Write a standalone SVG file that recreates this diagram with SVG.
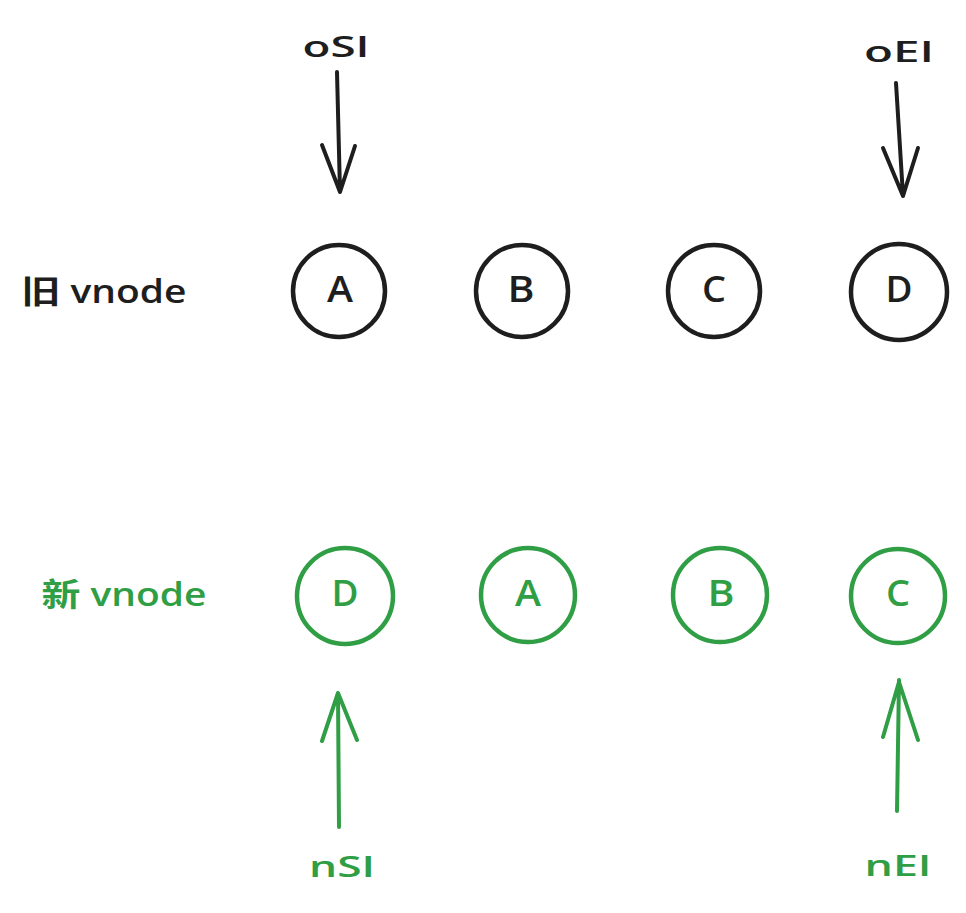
<svg xmlns="http://www.w3.org/2000/svg" width="966" height="913" viewBox="0 0 966 913">
<style>
.k{stroke:#1e1e1e}
.g{stroke:#2f9e44}
circle{fill:none;stroke-width:4.5}
.ln{fill:none;stroke-width:4;stroke-linecap:round;stroke-linejoin:round}
text{font-family:"Open Sans","Noto Sans CJK SC",sans-serif;font-size:32px;font-weight:600;text-anchor:middle;dominant-baseline:central}
text.n{font-size:36px}
text.s{font-size:28px}
.tk{fill:#1e1e1e}
.tg{fill:#2f9e44}
</style>
<rect width="966" height="913" fill="#ffffff"/>
<g id="label-old"><text class="tk" x="104" y="290" textLength="165" lengthAdjust="spacingAndGlyphs">旧 vnode</text></g>
<g id="label-new"><text class="tg" x="124" y="593" textLength="165" lengthAdjust="spacingAndGlyphs">新 vnode</text></g>
<g id="old-A"><circle class="k" cx="339" cy="291" r="46"/><text class="tk n" x="340" y="288" textLength="26" lengthAdjust="spacingAndGlyphs">A</text></g>
<g id="old-B"><circle class="k" cx="522" cy="291" r="46"/><text class="tk n" x="521" y="288" textLength="27" lengthAdjust="spacingAndGlyphs">B</text></g>
<g id="old-C"><circle class="k" cx="714" cy="291" r="46"/><text class="tk n" x="714" y="288" textLength="24" lengthAdjust="spacingAndGlyphs">C</text></g>
<g id="old-D"><circle class="k" cx="899" cy="292" r="48"/><text class="tk n" x="899" y="288" textLength="27" lengthAdjust="spacingAndGlyphs">D</text></g>
<g id="new-D"><circle class="g" cx="345" cy="596" r="48"/><text class="tg n" x="345" y="592" textLength="27" lengthAdjust="spacingAndGlyphs">D</text></g>
<g id="new-A"><circle class="g" cx="528" cy="595" r="47"/><text class="tg n" x="528" y="592" textLength="26" lengthAdjust="spacingAndGlyphs">A</text></g>
<g id="new-B"><circle class="g" cx="720" cy="595" r="47"/><text class="tg n" x="721" y="592" textLength="27" lengthAdjust="spacingAndGlyphs">B</text></g>
<g id="new-C"><circle class="g" cx="898" cy="596" r="47"/><text class="tg n" x="898" y="592" textLength="24" lengthAdjust="spacingAndGlyphs">C</text></g>
<g id="label-oSI"><text class="tk s" x="336" y="46" textLength="67" lengthAdjust="spacingAndGlyphs">oSI</text></g>
<g id="label-oEI"><text class="tk s" x="899" y="51" textLength="70" lengthAdjust="spacingAndGlyphs">oEI</text></g>
<g id="label-nSI"><text class="tg s" x="342" y="866" textLength="66" lengthAdjust="spacingAndGlyphs">nSI</text></g>
<g id="label-nEI"><text class="tg s" x="898" y="865" textLength="67" lengthAdjust="spacingAndGlyphs">nEI</text></g>
<g id="connectors">
<path class="ln k" d="M337 72 L340 192 M322 145 L340 192 L355 146"/>
<path class="ln k" d="M896 83 L903 196 M883 148 L903 196 L918 148"/>
<path class="ln g" d="M339 827 L338 693 M322 741 L338 693 L357 740"/>
<path class="ln g" d="M897 811 L899 680 M883 737 L899 682 L918 740"/>
</g>
</svg>
